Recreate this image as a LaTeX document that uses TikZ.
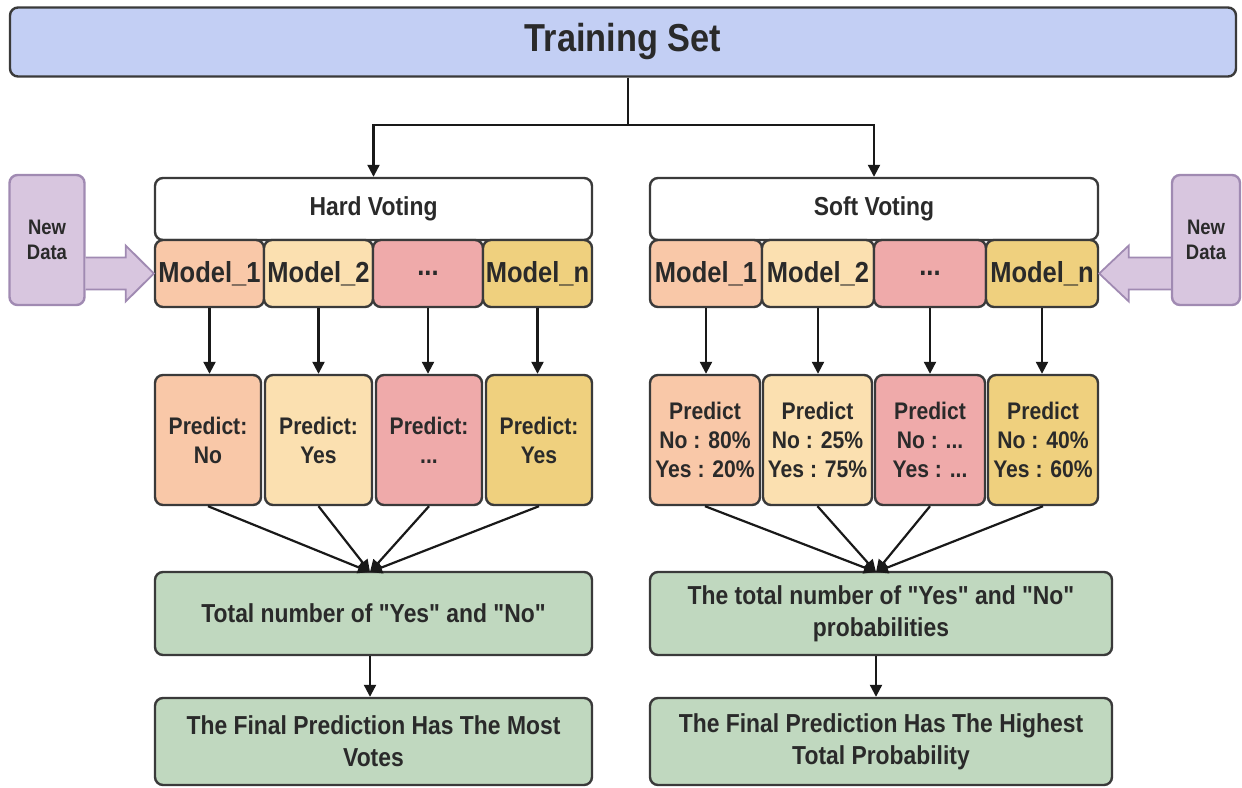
\documentclass[tikz,border=0pt]{standalone}
\usepackage{fontspec}
\setmainfont{Liberation Sans}[FakeStretch=0.88, Ligatures=TeXOff]
\usetikzlibrary{arrows.meta,calc}
\definecolor{tsblue}{HTML}{C3CFF4}
\definecolor{bordergray}{HTML}{3A3A3A}
\definecolor{txt}{HTML}{2A2A2A}
\definecolor{cA}{HTML}{F9C8A8}
\definecolor{cB}{HTML}{FBE0B0}
\definecolor{cC}{HTML}{EFAAAA}
\definecolor{cD}{HTML}{EFD07E}
\definecolor{cgreen}{HTML}{C0D8BF}
\definecolor{cpurple}{HTML}{D8C6DF}
\definecolor{cpurpleb}{HTML}{A08AB2}
\newcommand{\dq}{\symbol{34}}
\tikzset{
  box/.style={draw=bordergray, line width=2.4pt, rounded corners=8pt, text=txt, align=center, inner sep=0pt},
  arr/.style={-{Triangle[length=12pt,width=12pt]}, line width=2.2pt, draw=black!90},
  modelbox/.style={box, minimum height=67pt, font=\bfseries\fontsize{29}{32}\selectfont},
  predbox/.style={box, minimum height=130pt, font=\bfseries\fontsize{24}{29}\selectfont},
  greenbox/.style={box, fill=cgreen, font=\bfseries\fontsize{26}{32}\selectfont},
  ndbox/.style={box, draw=cpurpleb, fill=cpurple, minimum height=130pt, font=\bfseries\fontsize{21}{25}\selectfont},
  blockarr/.style={draw=cpurpleb, fill=cpurple, line width=1.8pt, line join=miter}
}
\begin{document}
\begin{tikzpicture}[x=1pt,y=-1pt]
\useasboundingbox (0,0) rectangle (1242,787);
% Training set
\node[box, fill=tsblue, minimum width=1226pt, minimum height=69pt, font=\bfseries\fontsize{39}{44}\selectfont] (ts) at (623,42) {Training Set};
% voting headers
\node[box, fill=white, minimum width=437pt, minimum height=62pt, font=\bfseries\fontsize{26}{30}\selectfont] (hv) at (373.5,209) {Hard Voting};
\node[box, fill=white, minimum width=448pt, minimum height=62pt, font=\bfseries\fontsize{26}{30}\selectfont] (sv) at (874,209) {Soft Voting};
\coordinate (split) at (628,125);
\draw[line width=2.2pt, draw=black!90] (split |- ts.south) -- (split);
\draw[arr] (split) -| (hv.north);
\draw[arr] (split) -| (sv.north);
% models hard
\node[modelbox, fill=cA, minimum width=109pt] (mh1) at (209.5,273.5) {Model\_1};
\node[modelbox, fill=cB, minimum width=109pt] (mh2) at (318.5,273.5) {Model\_2};
\node[modelbox, fill=cC, minimum width=110pt] (mh3) at (428,273.5) {...};
\node[modelbox, fill=cD, minimum width=109pt] (mh4) at (537.5,273.5) {Model\_n};
% models soft
\node[modelbox, fill=cA, minimum width=112pt] (ms1) at (706,273.5) {Model\_1};
\node[modelbox, fill=cB, minimum width=112pt] (ms2) at (818,273.5) {Model\_2};
\node[modelbox, fill=cC, minimum width=112pt] (ms3) at (930,273.5) {...};
\node[modelbox, fill=cD, minimum width=112pt] (ms4) at (1042,273.5) {Model\_n};
% predictions hard
\node[predbox, fill=cA, minimum width=106pt] (ph1) at (208,440) {Predict:\\No};
\node[predbox, fill=cB, minimum width=107pt] (ph2) at (318.5,440) {Predict:\\Yes};
\node[predbox, fill=cC, minimum width=106pt] (ph3) at (429,440) {Predict:\\...};
\node[predbox, fill=cD, minimum width=106pt] (ph4) at (539,440) {Predict:\\Yes};
% predictions soft
\node[predbox, fill=cA, minimum width=110pt] (ps1) at (705,440) {Predict\\No : 80\%\\Yes : 20\%};
\node[predbox, fill=cB, minimum width=109pt] (ps2) at (817.5,440) {Predict\\No : 25\%\\Yes : 75\%};
\node[predbox, fill=cC, minimum width=110pt] (ps3) at (930,440) {Predict\\No : ...\\Yes : ...};
\node[predbox, fill=cD, minimum width=110pt] (ps4) at (1043,440) {Predict\\No : 40\%\\Yes : 60\%};
% totals
\node[greenbox, minimum width=437pt, minimum height=83pt] (th) at (373.5,613.5) {Total number of \dq Yes\dq{} and \dq No\dq};
\node[greenbox, minimum width=462pt, minimum height=83pt] (tsf) at (881,613.5) {The total number of \dq Yes\dq{} and \dq No\dq\\probabilities};
% finals
\node[greenbox, minimum width=437pt, minimum height=87pt] (fh) at (373.5,741.5) {The Final Prediction Has The Most\\Votes};
\node[greenbox, minimum width=462pt, minimum height=87pt] (fs) at (881,741.5) {The Final Prediction Has The Highest\\Total Probability};
% model -> predict arrows
\foreach \i in {1,2,3,4}{
  \draw[arr] (mh\i.south) -- (mh\i.south |- ph\i.north);
  \draw[arr] (ms\i.south) -- (ms\i.south |- ps\i.north);
}
% converging
\coordinate (thtop) at (370,572);
\coordinate (tstop) at (876,572);
\foreach \i in {1,2,3,4}{
  \draw[arr] (ph\i.south) -- (thtop);
  \draw[arr] (ps\i.south) -- (tstop);
}
% totals -> finals
\draw[arr] (th.south -| thtop) -- (fh.north -| thtop);
\draw[arr] (tsf.south -| tstop) -- (fs.north -| tstop);
% New data
\node[ndbox, minimum width=75pt] (nd1) at (47,240) {New\\Data};
\node[ndbox, minimum width=68pt] (nd2) at (1206,240) {New\\Data};
\coordinate (la) at (nd1.east |- mh1.west);
\draw[blockarr] ($(la)+(0,-16)$) -- ($(la)+(40,-16)$) -- ($(la)+(40,-28)$) -- (mh1.west) -- ($(la)+(40,28)$) -- ($(la)+(40,16)$) -- ($(la)+(0,16)$);
\coordinate (ra) at (nd2.west |- ms4.east);
\draw[blockarr] ($(ra)+(0,-16)$) -- ($(ra)+(-42,-16)$) -- ($(ra)+(-42,-28)$) -- (ms4.east) -- ($(ra)+(-42,28)$) -- ($(ra)+(-42,16)$) -- ($(ra)+(0,16)$);
\end{tikzpicture}
\end{document}
